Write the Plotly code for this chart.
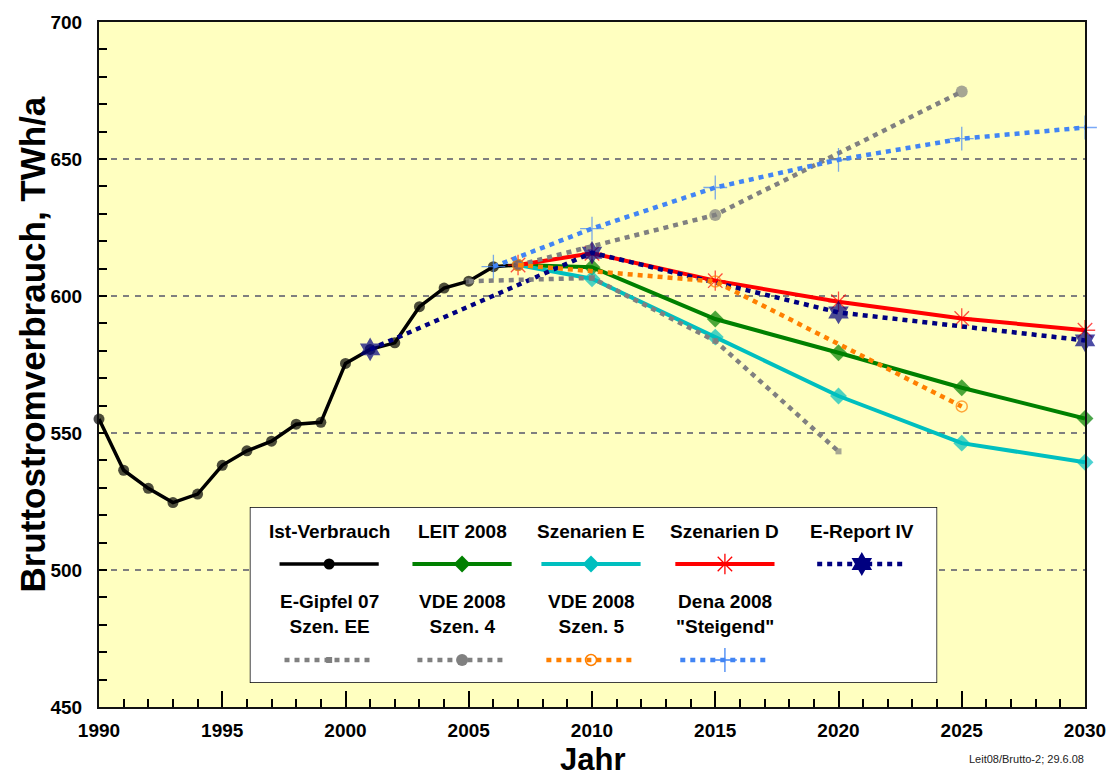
import plotly.graph_objects as go

# ---------------- data ----------------
years_ist = list(range(1990, 2008))
ist = [555.1, 536.4, 529.8, 524.6, 527.7, 538.2, 543.5, 547.0, 553.2, 553.9,
       575.4, 580.5, 582.9, 596.1, 602.9, 605.4, 610.7, 611.3]

years_leit = [2007, 2010, 2015, 2020, 2025, 2030]
leit = [611.3, 610.5, 591.6, 579.3, 566.5, 555.3]

years_szen_e = [2007, 2010, 2015, 2020, 2025, 2030]
szen_e = [611.3, 606.3, 585.0, 563.5, 546.3, 539.3]

years_szen_d = [2007, 2010, 2015, 2020, 2025, 2030]
szen_d = [611.3, 615.6, 605.6, 597.9, 591.8, 587.5]

years_ereport = [2001, 2010, 2020, 2030]
ereport = [580.5, 615.8, 594.0, 583.8]

years_gipfel = [2005, 2010, 2015, 2020]
gipfel = [605.4, 606.6, 583.6, 543.3]

years_vde4 = [2007, 2015, 2025]
vde4 = [611.3, 629.6, 674.6]

years_vde5 = [2007, 2015, 2025]
vde5 = [611.3, 605.3, 559.7]

years_dena = [2006, 2010, 2015, 2020, 2025, 2030]
dena = [610.7, 624.6, 639.6, 649.7, 657.4, 661.5]

labels = ["Ist-Verbrauch", "LEIT 2008", "Szenarien E", "Szenarien D", "E-Report IV",
          "E-Gipfel 07<br>Szen. EE", "VDE 2008<br>Szen. 4", "VDE 2008<br>Szen. 5",
          "Dena 2008<br>\"Steigend\""]

x_ticks = [1990, 1995, 2000, 2005, 2010, 2015, 2020, 2025, 2030]
y_ticks = [450, 500, 550, 600, 650, 700]

# ---------------- styles ----------------
DOT = "5px,5px"
styles = [
    dict(color="#000000", width=3.5, dash="solid", symbol="circle", size=11, lw=0, hide_first=False),
    dict(color="#008000", width=4, dash="solid", symbol="diamond", size=13, lw=0, hide_first=True),
    dict(color="#00BFBF", width=4, dash="solid", symbol="diamond", size=13, lw=0, hide_first=True),
    dict(color="#FF0000", width=4, dash="solid", symbol="asterisk-open", size=17, lw=1.3, hide_first=False),
    dict(color="#000080", width=4.5, dash=DOT, symbol="hexagram", size=18, lw=0, hide_first=False),
    dict(color="#808080", width=4.5, dash=DOT, symbol="square", size=6, lw=0, hide_first=False),
    dict(color="#808080", width=4.5, dash=DOT, symbol="circle", size=12, lw=0, hide_first=False),
    dict(color="#FF8000", width=4.5, dash=DOT, symbol="circle-open", size=11, lw=1.5, hide_first=False),
    dict(color="#4285F4", width=4.5, dash=DOT, symbol="cross-thin-open", size=17, lw=1.3, hide_first=False),
]

series = [
    (years_ist, ist), (years_leit, leit), (years_szen_e, szen_e), (years_szen_d, szen_d),
    (years_ereport, ereport), (years_gipfel, gipfel), (years_vde4, vde4),
    (years_vde5, vde5), (years_dena, dena),
]

fig = go.Figure()

for (xs, ys), st, lab in zip(series, styles, labels):
    sizes = [st["size"]] * len(xs)
    if st["hide_first"]:
        sizes[0] = 0
    fig.add_trace(go.Scatter(
        x=xs, y=ys, mode="lines+markers", name=lab.replace("<br>", " "),
        line=dict(color=st["color"], width=st["width"], dash=st["dash"]),
        marker=dict(symbol=st["symbol"], size=sizes, color=st["color"],
                    line=dict(color=st["color"], width=st["lw"])),
        cliponaxis=False, showlegend=False, xaxis="x", yaxis="y",
    ))

# ---------------- custom legend (own subplot in pixel-like units) ----------------
PL, PR, PT, PB = 99, 1093, 22, 707
W, H = PR - PL, PB - PT
BX0, BX1, BY0, BY1 = 251, 944, 507, 683

col_x = [331, 465, 595, 730, 868]
row1_text_y, row1_line_y = 531, 564
row2_text_y, row2_line_y = 614, 660

legend_pos = []
for i in range(5):
    legend_pos.append((col_x[i], row1_text_y, row1_line_y, 50 if i < 4 else 45))
for i in range(4):
    legend_pos.append((col_x[i], row2_text_y, row2_line_y, 45))

annotations = []
for (cx, ty, ly, hw), st, lab in zip(legend_pos, styles, labels):
    fig.add_trace(go.Scatter(
        x=[cx - hw, cx + hw], y=[ly, ly], mode="lines",
        line=dict(color=st["color"], width=st["width"], dash=st["dash"]),
        xaxis="x2", yaxis="y2", showlegend=False, hoverinfo="skip", cliponaxis=False,
    ))
    fig.add_trace(go.Scatter(
        x=[cx], y=[ly], mode="markers",
        marker=dict(symbol=st["symbol"], size=st["size"], color=st["color"],
                    line=dict(color=st["color"], width=st["lw"])),
        xaxis="x2", yaxis="y2", showlegend=False, hoverinfo="skip", cliponaxis=False,
    ))
    annotations.append(dict(
        x=cx, y=ty, xref="x2", yref="y2", text=lab, showarrow=False,
        font=dict(family="Liberation Sans, Arial, sans-serif", size=19, color="black", weight="bold"),
        xanchor="center", yanchor="middle",
    ))

shapes = [dict(type="rect", xref="x2", yref="y2", x0=BX0, x1=BX1, y0=BY0, y1=BY1,
               fillcolor="white", line=dict(color="black", width=1.5), layer="below")]

def px_x(p):
    return (p - PL) / W

def px_y(p):
    return (PB - p) / H

annotations += [
    dict(x=px_x(31), y=px_y(345), xref="paper", yref="paper", text="Bruttostromverbrauch, TWh/a",
         textangle=-90, showarrow=False, xanchor="center", yanchor="middle",
         font=dict(family="Liberation Sans, Arial, sans-serif", size=35, color="black", weight="bold")),
    dict(x=px_x(597), y=px_y(759), xref="paper", yref="paper", text="Jahr",
         showarrow=False, xanchor="center", yanchor="middle",
         font=dict(family="Liberation Sans, Arial, sans-serif", size=31, color="black", weight="bold")),
    dict(x=px_x(1034), y=px_y(759), xref="paper", yref="paper", text="Leit08/Brutto-2; 29.6.08",
         showarrow=False, xanchor="center", yanchor="middle",
         font=dict(family="Liberation Sans, Arial, sans-serif", size=11, color="#222222")),
]

tickfont = dict(family="Liberation Sans, Arial, sans-serif", size=19, color="black", weight="bold")

fig.update_layout(
    width=1118, height=776, autosize=False,
    margin=dict(l=PL, r=1118 - PR, t=PT, b=776 - PB),
    paper_bgcolor="white", plot_bgcolor="#FFFFC0",
    showlegend=False,
    xaxis=dict(range=[1990, 2030], tickvals=x_ticks, ticktext=[str(v) for v in x_ticks],
               ticks="inside", ticklen=16, tickwidth=1.5, tickcolor="black",
               minor=dict(dtick=1, tick0=1990, ticks="inside", ticklen=8, tickwidth=1.5, tickcolor="black", showgrid=False),
               showgrid=False, zeroline=False, showline=True, mirror=True, linecolor="#111111", linewidth=2,
               tickfont=tickfont, ticklabelstandoff=5, anchor="y", domain=[0, 1]),
    yaxis=dict(range=[450, 700], tickvals=y_ticks, ticktext=[str(v) for v in y_ticks],
               ticks="inside", ticklen=8, tickwidth=1.5, tickcolor="black",
               minor=dict(dtick=10, tick0=450, ticks="inside", ticklen=8, tickwidth=1.5, tickcolor="black", showgrid=False),
               showgrid=True, gridcolor="#7F7F7F", gridwidth=1.5, griddash="6px,6px",
               zeroline=False, showline=True, mirror=True, linecolor="#111111", linewidth=2,
               tickfont=tickfont, ticklabelstandoff=11, anchor="x", domain=[0, 1]),
    xaxis2=dict(domain=[px_x(BX0), px_x(BX1)], range=[BX0, BX1], visible=False, anchor="y2",
                showgrid=False, zeroline=False, fixedrange=True),
    yaxis2=dict(domain=[px_y(BY1), px_y(BY0)], range=[BY1, BY0], visible=False, anchor="x2",
                showgrid=False, zeroline=False, fixedrange=True),
    shapes=shapes,
    annotations=annotations,
)

fig.write_html(
    "out.html",
    config={"displayModeBar": False, "responsive": False},
    default_width="1118px", default_height="776px",
    post_script="document.body.style.margin='0px';document.body.style.overflow='hidden';",
)
